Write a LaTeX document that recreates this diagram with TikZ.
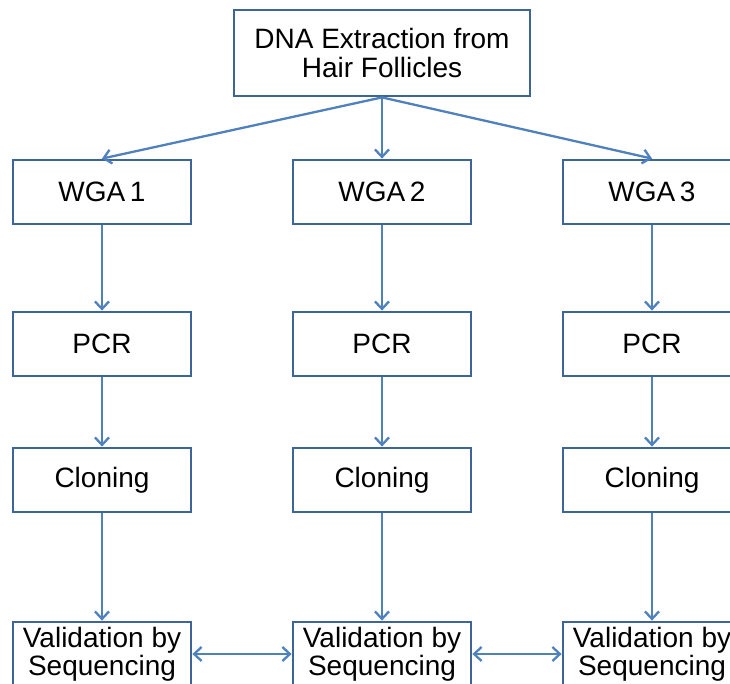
\documentclass[tikz,border=0pt]{standalone}
\usepackage{fontspec}
\setmainfont{Liberation Sans}
\usetikzlibrary{arrows.meta}
\definecolor{boxline}{HTML}{3E6597}
\definecolor{arrowline}{HTML}{4F81BD}

\begin{document}
\begin{tikzpicture}[x=1pt,y=-1pt,
  box/.style={draw=boxline, line width=2.8pt, fill=white,
    minimum width=178pt, minimum height=64pt, inner sep=0pt,
    font=\fontsize{28}{28.5}\selectfont, align=center},
  tallbox/.style={box, minimum width=296pt, minimum height=86pt},
  flow/.style={draw=arrowline, line width=2.3pt,
    -{Straight Barb[length=7.5pt,width=14pt]}},
  twoway/.style={draw=arrowline, line width=2.3pt,
    {Straight Barb[length=7.5pt,width=14pt]}-{Straight Barb[length=7.5pt,width=14pt]}}]
  \useasboundingbox (0,0) rectangle (730,683);
  \clip (0,0) rectangle (730,683);

  % source box
  \node[tallbox] (dna) at (382,53) {DNA Extraction from\\Hair Follicles};

  % three parallel pipelines
  \foreach \c/\x in {1/102, 2/382, 3/652} {
    \node[box] (wga\c) at (\x,192) {WGA\,\c};
    \node[box] (pcr\c) at (\x,344) {PCR};
    \node[box] (clo\c) at (\x,480) {Cloning};
    \node[box] (val\c) at (\x,654) {Validation by\\Sequencing};
  }

  % connectors
  \foreach \c in {1,2,3} {
    \draw[flow] (dna.south) -- (wga\c.north);
    \draw[flow] (wga\c.south) -- (pcr\c.north);
    \draw[flow] (pcr\c.south) -- (clo\c.north);
    \draw[flow] (clo\c.south) -- (val\c.north);
  }
  \draw[twoway] (val1.east) -- (val2.west);
  \draw[twoway] (val2.east) -- (val3.west);
\end{tikzpicture}
\end{document}
